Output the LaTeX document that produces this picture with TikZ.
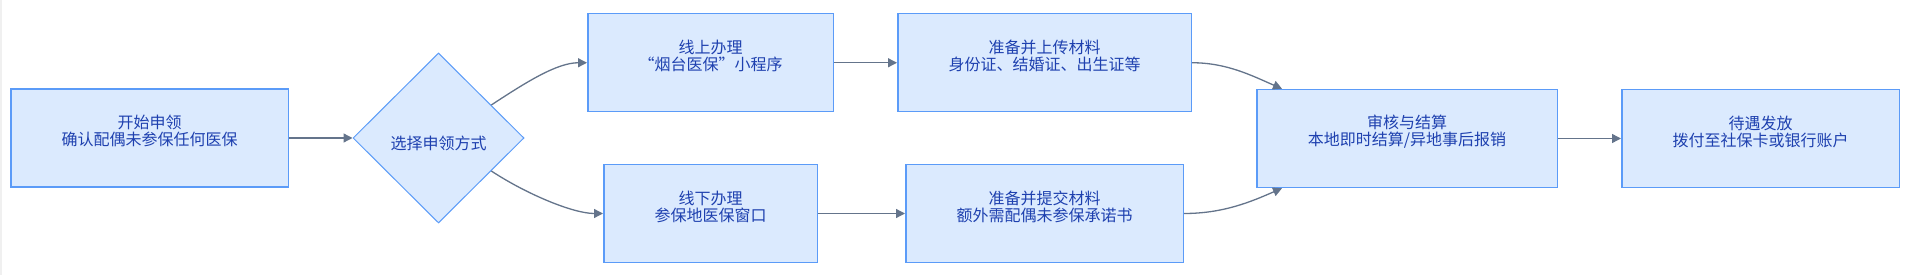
\documentclass[tikz,border=0pt]{standalone}
\usepackage{fontspec}
\setmainfont{Noto Sans CJK SC}
\usetikzlibrary{arrows.meta,shapes.geometric}
\definecolor{boxfill}{HTML}{DBEAFE}
\definecolor{boxline}{HTML}{5B9BF8}
\definecolor{txtcol}{HTML}{1E40AF}
\definecolor{conncol}{HTML}{64748B}
\begin{document}
\begin{tikzpicture}[x=1pt,y=-1pt,
  box/.style={draw=boxline, fill=boxfill, line width=1.5pt, inner sep=0pt, minimum height=98pt},
  dia/.style={diamond, draw=boxline, fill=boxfill, line width=1pt, inner sep=0pt},
  lbl/.style={text=txtcol, font=\fontsize{16}{17}\selectfont, align=center, inner sep=0pt},
  conn/.style={draw=conncol, line width=1.3pt, -{Triangle[length=9pt,width=9pt]}}]
\useasboundingbox (0,0) rectangle (1908,275);
\fill[gray!12] (0,0) rectangle (1.5,275);
% boxes
\node[box, minimum width=277.5pt] (start) at (149.5,138) {};
\node[dia, minimum width=171pt, minimum height=170pt] (choose) at (438.5,138) {};
\node[box, minimum width=245.5pt] (online) at (710.5,62.75) {};
\node[box, minimum width=293.5pt] (upload) at (1044.5,62.75) {};
\node[box, minimum width=213.5pt] (offline) at (710.5,213.5) {};
\node[box, minimum width=277.5pt] (submit) at (1044.5,213.5) {};
\node[box, minimum width=300.5pt] (review) at (1407,138.5) {};
\node[box, minimum width=277.5pt] (payout) at (1760.5,138.5) {};
% texts
\node[lbl] (startT) at (149.5,131) {开始申领\\确认配偶未参保任何医保};
\node[lbl] (chooseT) at (438.5,143) {选择申领方式};
\node[lbl] (onlineT) at (710.5,56) {线上办理\\“烟台医保”小程序};
\node[lbl] (uploadT) at (1044.5,56) {准备并上传材料\\身份证、结婚证、出生证等};
\node[lbl] (offlineT) at (710.5,206.5) {线下办理\\参保地医保窗口};
\node[lbl] (submitT) at (1044.5,206.5) {准备并提交材料\\额外需配偶未参保承诺书};
\node[lbl] (reviewT) at (1407,131.5) {审核与结算\\本地即时结算/异地事后报销};
\node[lbl] (payoutT) at (1760.5,131.5) {待遇发放\\拨付至社保卡或银行账户};
% connectors
\draw[conn] (start.east) -- (choose.west);
\draw[conn] (choose.32) .. controls +(35,-23) and +(-30,0) .. (online.west);
\draw[conn] (choose.-32) .. controls +(35,23) and +(-30,0) .. (offline.west);
\draw[conn] (online.east) -- (upload.west);
\draw[conn] (offline.east) -- (submit.west);
\draw[conn] (upload.east) .. controls +(35,0) and +(-30,-13) .. ([xshift=26pt]review.north west);
\draw[conn] (submit.east) .. controls +(40,0) and +(-30,13) .. ([xshift=26pt]review.south west);
\draw[conn] (review.east) -- (payout.west);
\end{tikzpicture}
\end{document}
